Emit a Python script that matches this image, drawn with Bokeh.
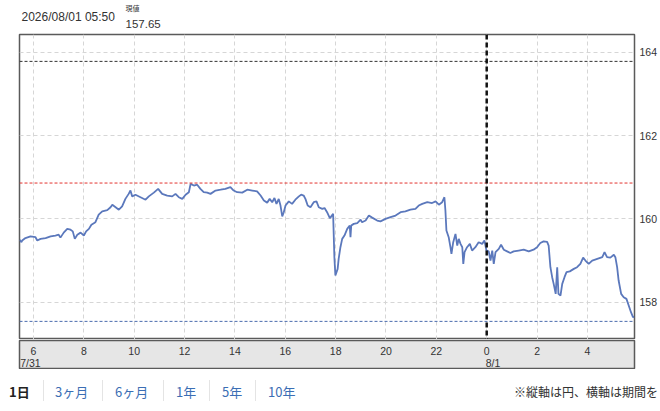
from bokeh.plotting import figure
from bokeh.models import Range1d, FixedTicker, Span, Label, Div
from bokeh.layouts import column
from bokeh.embed import file_html
from bokeh.resources import INLINE
from bokeh.core.properties import value

# ---------------- data ----------------
timestamp_label = "2026/08/01 05:50"
price_caption = "現値"
price_label = "157.65"

hours = [
    5.45, 5.52, 5.55, 5.68, 5.88, 6.08, 6.15, 6.28, 6.48, 6.68,
    6.87, 7.00, 7.07, 7.20, 7.34, 7.47, 7.56, 7.64, 7.74, 7.87,
    8.00, 8.09, 8.20, 8.30, 8.46, 8.59, 8.73, 8.93, 9.06, 9.13,
    9.26, 9.39, 9.52, 9.65, 9.78, 9.85, 9.92, 10.05, 10.25, 10.45,
    10.58, 10.78, 10.95, 11.11, 11.31, 11.51, 11.64, 11.77, 11.91, 12.04,
    12.17, 12.24, 12.37, 12.50, 12.63, 12.76, 12.90, 13.03, 13.23, 13.43,
    13.62, 13.82, 13.95, 14.09, 14.29, 14.49, 14.69, 14.88, 15.02, 15.15,
    15.28, 15.38, 15.48, 15.57, 15.65, 15.74, 15.81, 15.88, 15.94, 16.01,
    16.14, 16.27, 16.40, 16.54, 16.63, 16.73, 16.80, 16.89, 17.00, 17.13,
    17.24, 17.33, 17.47, 17.56, 17.66, 17.77, 17.79, 17.90, 17.95, 17.99,
    18.08, 18.12, 18.19, 18.26, 18.35, 18.46, 18.56, 18.59, 18.62, 18.72,
    18.86, 18.99, 19.05, 19.19, 19.32, 19.45, 19.65, 19.78, 19.98, 20.18,
    20.38, 20.58, 20.77, 20.97, 21.17, 21.30, 21.44, 21.64, 21.83, 21.97,
    22.10, 22.23, 22.32, 22.36, 22.40, 22.49, 22.56, 22.60, 22.67, 22.76,
    22.83, 22.89, 22.96, 23.03, 23.07, 23.12, 23.22, 23.33, 23.42, 23.55,
    23.68, 23.82, 23.91, 23.99, 24.08, 24.15, 24.22, 24.28, 24.35, 24.48,
    24.57, 24.68, 24.81, 24.94, 25.07, 25.27, 25.47, 25.67, 25.86, 26.00,
    26.13, 26.26, 26.40, 26.46, 26.53, 26.60, 26.66, 26.74, 26.80, 26.85,
    26.93, 27.00, 27.09, 27.17, 27.30, 27.46, 27.59, 27.72, 27.83, 27.92,
    28.05, 28.19, 28.39, 28.59, 28.68, 28.78, 28.91, 29.05, 29.11, 29.18,
    29.24, 29.34, 29.44, 29.55, 29.64, 29.73, 29.81, 29.86,
]
prices = [
    159.50, 159.44, 159.48, 159.54, 159.58, 159.56, 159.48, 159.52, 159.54, 159.58,
    159.60, 159.62, 159.55, 159.67, 159.76, 159.74, 159.70, 159.52, 159.62, 159.67,
    159.60, 159.70, 159.76, 159.86, 159.92, 160.10, 160.18, 160.21, 160.28, 160.34,
    160.28, 160.22, 160.30, 160.48, 160.60, 160.68, 160.54, 160.58, 160.52, 160.46,
    160.54, 160.63, 160.72, 160.60, 160.56, 160.54, 160.60, 160.52, 160.48, 160.58,
    160.64, 160.84, 160.80, 160.82, 160.72, 160.64, 160.63, 160.60, 160.68, 160.70,
    160.72, 160.76, 160.68, 160.64, 160.63, 160.70, 160.68, 160.66, 160.56, 160.44,
    160.39, 160.48, 160.40, 160.50, 160.36, 160.48, 160.32, 160.06, 160.16, 160.32,
    160.42, 160.36, 160.46, 160.54, 160.58, 160.56, 160.48, 160.32, 160.28, 160.40,
    160.42, 160.28, 160.24, 160.26, 160.16, 160.02, 160.03, 160.12, 159.08, 158.64,
    158.80, 159.04, 159.32, 159.52, 159.60, 159.76, 159.84, 159.56, 159.84, 159.88,
    159.90, 159.98, 159.92, 159.96, 160.08, 160.03, 159.96, 159.94, 160.00, 160.04,
    160.08, 160.16, 160.18, 160.22, 160.24, 160.32, 160.36, 160.40, 160.38, 160.42,
    160.34, 160.40, 160.52, 160.20, 159.72, 159.56, 159.32, 159.16, 159.44, 159.64,
    159.36, 159.52, 159.40, 159.32, 158.92, 159.20, 159.32, 159.40, 159.24, 159.32,
    159.44, 159.40, 159.48, 159.24, 159.22, 159.00, 159.24, 158.92, 159.20, 159.28,
    159.38, 159.26, 159.22, 159.18, 159.22, 159.24, 159.26, 159.22, 159.26, 159.32,
    159.42, 159.46, 159.45, 159.36, 158.84, 158.60, 158.44, 158.20, 158.84, 158.20,
    158.16, 158.44, 158.60, 158.72, 158.74, 158.80, 158.84, 158.92, 159.07, 159.00,
    158.92, 159.00, 159.04, 159.08, 159.20, 159.08, 159.07, 159.14, 159.08, 158.84,
    158.52, 158.20, 158.12, 158.08, 157.92, 157.76, 157.64, 157.65,
]

ref_levels = [163.78, 160.86, 157.54]
ref_colors = ["#333333", "#e3342f", "#4a6cae"]
midnight_hour = 24

x_ticks = [6, 8, 10, 12, 14, 16, 18, 20, 22, 24, 26, 28]
x_tick_labels = ["6", "8", "10", "12", "14", "16", "18", "20", "22", "0", "2", "4"]
date_labels = ["7/31", "8/1"]
date_label_hours = [5.47, 23.96]
y_ticks = [158, 160, 162, 164]

tab_labels = ["1日", "3ヶ月", "6ヶ月", "1年", "5年", "10年"]
note_text = "※縦軸は円、横軸は期間を"

# ---------------- layout constants ----------------
W = 660
FONT = "Liberation Sans"
CJK = "Noto Sans CJK JP"
x_start, x_end = 5.444, 29.87
y_start, y_end = 157.105, 164.425
FRAME_L, FRAME_R = 19, 26

# header (frame aligned with the chart frame; x data units == page pixels)
head = figure(width=W, height=33, toolbar_location=None, output_backend="svg",
              x_axis_location=None, y_axis_location=None,
              x_range=Range1d(FRAME_L, W - FRAME_R), y_range=Range1d(33, 0),
              min_border_left=FRAME_L, min_border_right=FRAME_R,
              min_border_top=0, min_border_bottom=0)
head.grid.visible = False
head.outline_line_color = None
for x, y, t, f, s in [(125, 7, price_caption, CJK, "7px"),
                      (21, 16, timestamp_label, FONT, "12px"),
                      (125, 23, price_label, FONT, "11.5px")]:
    head.add_layout(Label(x=x, y=y, text=t, text_font=f, text_font_size=s,
                          text_color="#333333", text_baseline="alphabetic"))

# main chart
p = figure(width=W, height=306, x_range=Range1d(x_start, x_end),
           y_range=Range1d(y_start, y_end), x_axis_location=None,
           y_axis_location="right", toolbar_location=None, output_backend="svg",
           min_border_left=FRAME_L, min_border_right=FRAME_R,
           min_border_top=1, min_border_bottom=0)
p.outline_line_color = "#5a5a5a"
p.outline_line_width = 1.5
p.yaxis.ticker = FixedTicker(ticks=y_ticks)
p.yaxis.axis_line_color = None
p.yaxis.major_tick_line_color = None
p.yaxis.minor_tick_line_color = None
p.yaxis.major_tick_out = 0
p.yaxis.major_tick_in = 0
p.yaxis.major_label_standoff = 5
p.yaxis.major_label_text_font = FONT
p.yaxis.major_label_text_font_size = "10.5px"
p.yaxis.major_label_text_color = "#333333"
p.xgrid.ticker = FixedTicker(ticks=x_ticks)
p.ygrid.ticker = FixedTicker(ticks=y_ticks)
for g in (p.xgrid, p.ygrid):
    g.grid_line_color = "#d6d6d6"
    g.grid_line_dash = "4 3"
    g.grid_line_width = 1

for lvl, col in zip(ref_levels, ref_colors):
    p.add_layout(Span(location=lvl, dimension="width", line_color=col,
                      line_dash="3 2", line_width=1))
p.add_layout(Span(location=midnight_hour, dimension="height", line_color="#111111",
                  line_dash="5 3", line_width=2.5))
p.line(hours, prices, line_color="#5b78bc", line_width=1.8)

# x-axis band
band = figure(width=W, height=30, x_range=p.x_range, y_range=Range1d(28, 0),
              toolbar_location=None, output_backend="svg",
              x_axis_location=None, y_axis_location=None,
              min_border_left=FRAME_L, min_border_right=FRAME_R,
              min_border_top=1, min_border_bottom=1)
band.grid.visible = False
band.background_fill_color = "#e6e6e6"
band.outline_line_color = "#5a5a5a"
band.outline_line_width = 1.5
band.text(x=x_ticks, y=[10] * len(x_ticks), text=x_tick_labels, text_font=value(FONT),
          text_font_size="10.5px", text_color="#333333", text_align="center",
          text_baseline="middle")
band.text(x=date_label_hours, y=[22] * len(date_labels), text=date_labels,
          text_font=value(FONT), text_font_size="10.5px", text_color="#333333",
          text_align="left", text_baseline="middle")

# footer tabs (plain HTML text)
tab_x = [9, 55, 115, 176, 222, 268]
sep_x = [43, 102, 163, 209, 255]
parts = []
for sx in sep_x:
    parts.append(f'<span style="position:absolute;left:{sx}px;top:11px;width:0;'
                 f'height:21px;border-left:1px solid #e4e4e4"></span>')
for i, (tx, tl) in enumerate(zip(tab_x, tab_labels)):
    style = ("font-weight:bold;color:#222222" if i == 0 else "color:#3b6eb4")
    parts.append(f'<span style="position:absolute;left:{tx}px;top:15px;'
                 f'font-size:13px;line-height:16px;white-space:nowrap;{style}">{tl}</span>')
parts.append(f'<span style="position:absolute;left:514px;top:16px;font-size:12px;'
             f'line-height:14px;white-space:nowrap;color:#333333">{note_text}</span>')
foot_html = (f'<div style="position:relative;width:{W}px;height:40px;overflow:hidden;'
             f'font-family:\'{CJK}\',sans-serif">' + "".join(parts) + "</div>")
foot = Div(text=foot_html, width=W, height=40, margin=0)

layout = column(head, p, band, foot, spacing=0)
open("out.html", "w").write(file_html(layout, INLINE))
